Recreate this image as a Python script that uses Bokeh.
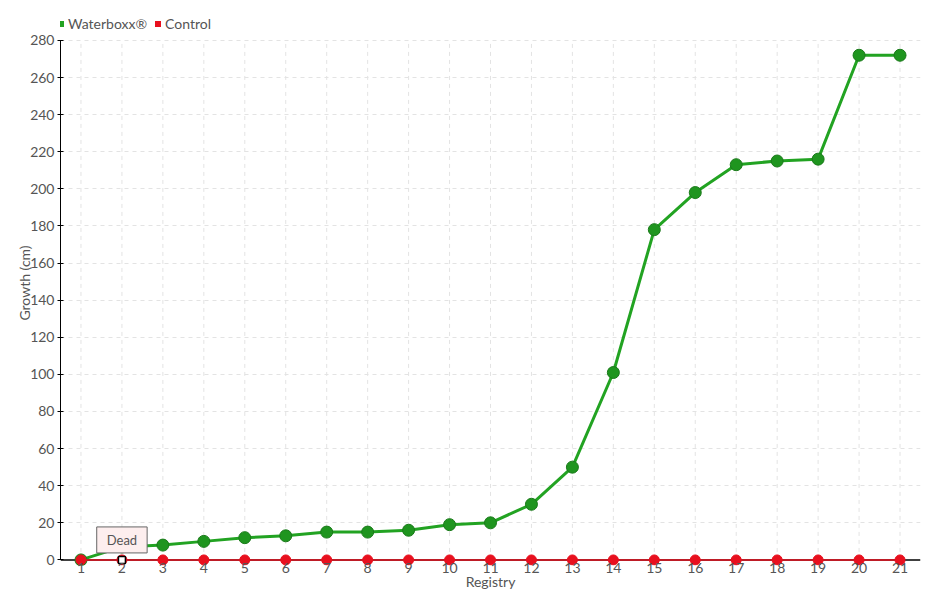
from bokeh.plotting import figure
from bokeh.models import Legend, LegendItem, Label, FixedTicker, Span
from bokeh.embed import file_html
from bokeh.resources import INLINE

registry = list(range(1, 22))
waterboxx = [0, 7, 8, 10, 12, 13, 15, 15, 16, 19, 20, 30, 50, 101, 178, 198, 213, 215, 216, 272, 272]
control = [0] * 21
y_ticks = list(range(0, 281, 20))
series_names = ["Waterboxx®", "Control"]
note_text = "Dead"

FONT = "Lato"
TXT = "#555555"
GREEN = "#22a322"
GREEN_DARK = "#1a7a1a"
GREEN_FILL = "#1f951f"
RED = "#e8101e"
GRID = "#e3e3e3"

p = figure(width=932, height=592, x_range=(0.5, 21.5), y_range=(-3, 301.5),
           output_backend="svg", toolbar_location=None,
           min_border_left=60, min_border_right=12, min_border_top=0, min_border_bottom=27)
p.outline_line_color = None
p.background_fill_color = "white"

# grid
p.xgrid.visible = False
p.ygrid.ticker = FixedTicker(ticks=y_ticks[1:])
p.ygrid.grid_line_color = GRID
p.ygrid.grid_line_dash = "4 4"
p.segment(x0=registry, y0=[y_ticks[0]] * len(registry), x1=registry, y1=[y_ticks[-1]] * len(registry),
          line_color=GRID, line_dash="4 4", line_width=1, level="underlay")

# axes
p.xaxis.ticker = FixedTicker(ticks=registry)
p.xaxis.major_tick_line_color = None
p.xaxis.minor_tick_line_color = None
p.xaxis.axis_line_color = None
p.xaxis.major_label_standoff = -9
p.xaxis.axis_label = "Registry"
p.xaxis.axis_label_standoff = -3

p.yaxis.ticker = FixedTicker(ticks=y_ticks)
p.yaxis.bounds = (y_ticks[0], y_ticks[-1])
p.yaxis.minor_tick_line_color = None
p.yaxis.major_tick_in = 3
p.yaxis.major_tick_out = 3
p.yaxis.major_tick_line_color = "black"
p.yaxis.axis_line_color = "black"
p.yaxis.major_label_standoff = 3
p.yaxis.axis_label = "Growth (cm)"
p.yaxis.axis_label_standoff = -6

for ax in (p.xaxis, p.yaxis):
    ax.major_label_text_font = FONT
    ax.major_label_text_font_size = "14px"
    ax.major_label_text_color = TXT
    ax.axis_label_text_font = FONT
    ax.axis_label_text_font_size = "14px"
    ax.axis_label_text_font_style = "normal"
    ax.axis_label_text_color = TXT

# baseline at zero
p.add_layout(Span(location=0, dimension="width", line_color="black", line_width=1.5, level="underlay"))

# legend swatches (hidden beneath the first points)
lg_w = p.scatter([registry[0]], [waterboxx[0]], marker="square", size=6, fill_color=GREEN, line_width=0)
lg_c = p.scatter([registry[0]], [control[0]], marker="square", size=6, fill_color=RED, line_width=0)

# series
p.line(registry, waterboxx, line_color=GREEN, line_width=3)
p.scatter(registry, waterboxx, size=12, fill_color=GREEN_FILL, line_color=GREEN_DARK, line_width=1)
p.line(registry, control, line_color=RED, line_width=1.5)
p.scatter(registry, control, size=10, fill_color=RED, line_color=RED, line_width=1)

# hover marker + note
p.scatter([registry[1]], [control[1]], marker="square", size=7, fill_color="white",
          line_color="black", line_width=1.5)
note = Label(x=registry[1], y=control[1], text=note_text, x_offset=0, y_offset=20,
             text_align="center", text_baseline="middle", text_font=FONT,
             text_font_size="13px", text_color=TXT,
             background_fill_color="#fdeeee", border_line_color="#666666",
             border_line_width=1)
note.padding = [10, 5]
p.add_layout(note)

# legend
legend = Legend(items=[LegendItem(label=series_names[0], renderers=[lg_w]),
                       LegendItem(label=series_names[1], renderers=[lg_c])],
                orientation="horizontal", location=(-7, 533),
                label_text_font=FONT, label_text_font_size="14px", label_text_color=TXT,
                glyph_width=15, glyph_height=15, label_standoff=0, spacing=3,
                padding=2, margin=0, border_line_color=None,
                background_fill_alpha=0, label_height=16)
p.add_layout(legend, "center")

open("out.html", "w").write(file_html(p, INLINE))
